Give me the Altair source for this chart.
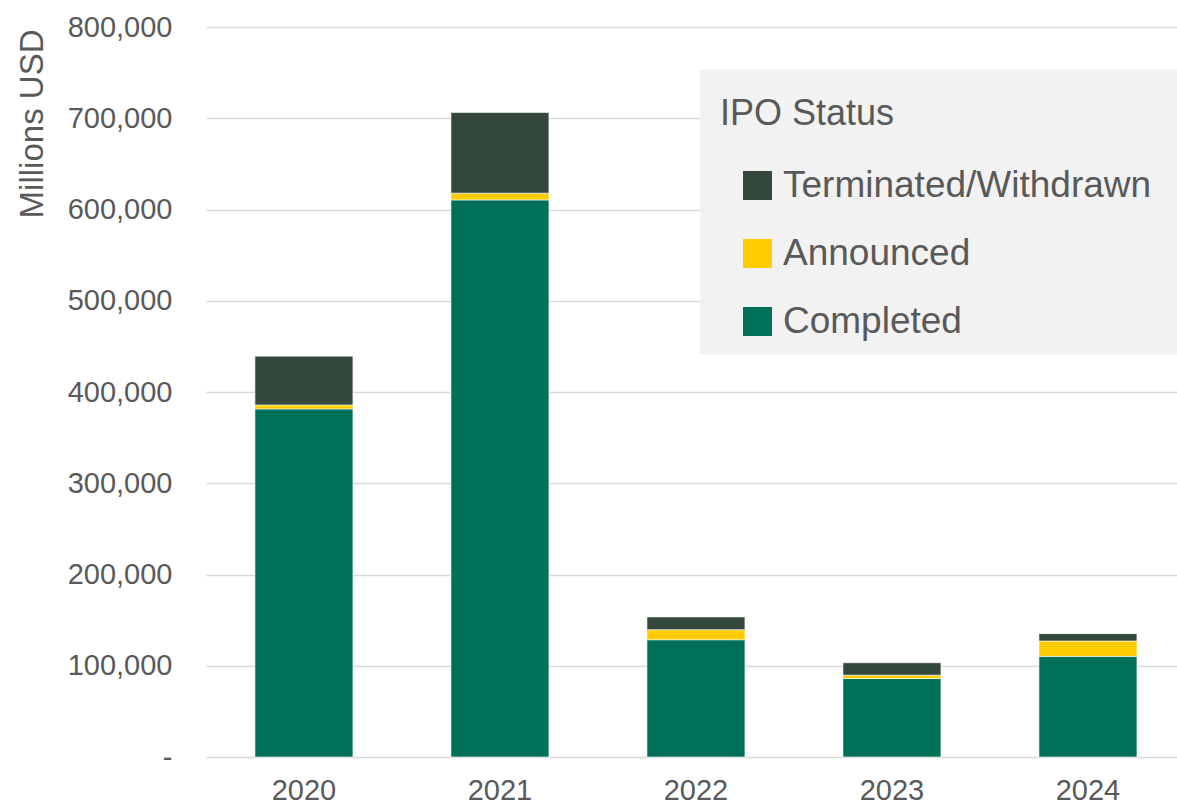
import altair as alt
import pandas as pd

years = ["2020", "2021", "2022", "2023", "2024"]
completed = [381500, 610500, 128500, 86000, 110300]
announced = [4300, 7400, 11000, 3700, 16800]
terminated = [53500, 88300, 14000, 13600, 8100]

statuses = ["Terminated/Withdrawn", "Announced", "Completed"]
colors = ["#33473B", "#FFCC00", "#007058"]
stack_rank = {"Completed": 0, "Announced": 1, "Terminated/Withdrawn": 2}

rows = []
for i, y in enumerate(years):
    for name, vals in (("Completed", completed), ("Announced", announced), ("Terminated/Withdrawn", terminated)):
        rows.append({"Year": y, "Status": name, "Value": vals[i], "rank": stack_rank[name]})
df = pd.DataFrame(rows)

FONT = "Liberation Sans"
GREY = "#595959"

bars = alt.Chart(df).mark_bar(stroke="white", strokeWidth=0.6).encode(
    x=alt.X("Year:N", sort=years,
            scale=alt.Scale(paddingInner=0.5, paddingOuter=0.227, align=0.55, round=False),
            axis=alt.Axis(title=None, labelAngle=0, labelFontSize=29, labelColor=GREY,
                          labelFont=FONT, labelPadding=19, ticks=False, domain=False)),
    y=alt.Y("Value:Q", stack="zero",
            scale=alt.Scale(domain=[0, 800000], nice=False),
            axis=alt.Axis(title="Millions USD", values=[0, 100000, 200000, 300000, 400000, 500000, 600000, 700000, 800000],
                          labelExpr="datum.value == 0 ? '-' : format(datum.value, ',')",
                          labelFontSize=29, labelColor=GREY, labelFont=FONT, labelPadding=34,
                          ticks=False, domain=False, grid=True, gridColor="#D9D9D9", gridWidth=1.5,
                          titleFontSize=33, titleFont=FONT, titleColor=GREY, titleFontWeight="normal",
                          titleAngle=-90, titleX=-174, titleY=2, titleAlign="right", titleBaseline="middle")),
    color=alt.Color("Status:N",
                    scale=alt.Scale(domain=statuses, range=colors),
                    legend=alt.Legend(title="IPO Status", orient="none", legendX=494, legendY=42,
                                      padding=20,
                                      titleFontSize=36, titleFont=FONT, titleColor=GREY, titleFontWeight="normal",
                                      titleBaseline="line-top", titleLineHeight=52,
                                      titlePadding=42,
                                      labelFontSize=37, labelFont=FONT, labelColor=GREY, labelOffset=7,
                                      symbolType="square", symbolSize=841, symbolStrokeWidth=0,
                                      symbolOffset=19, rowPadding=30, labelLimit=600)),
    order=alt.Order("rank:Q", sort="ascending"),
)

# grey background panel behind the legend
legend_box = alt.Chart(pd.DataFrame({"k": [0]})).mark_rect(color="#F2F2F2").encode(
    x=alt.value(494), x2=alt.value(971), y=alt.value(42), y2=alt.value(328)
)

chart = alt.layer(legend_box, bars).properties(
    width=971, height=730,
    autosize=alt.AutoSizeParams(type="none"),
    padding={"left": 206, "top": 27, "right": 0, "bottom": 48},
).configure_view(stroke=None)

chart.save("out.html", embed_options={"renderer": "svg", "actions": False})
